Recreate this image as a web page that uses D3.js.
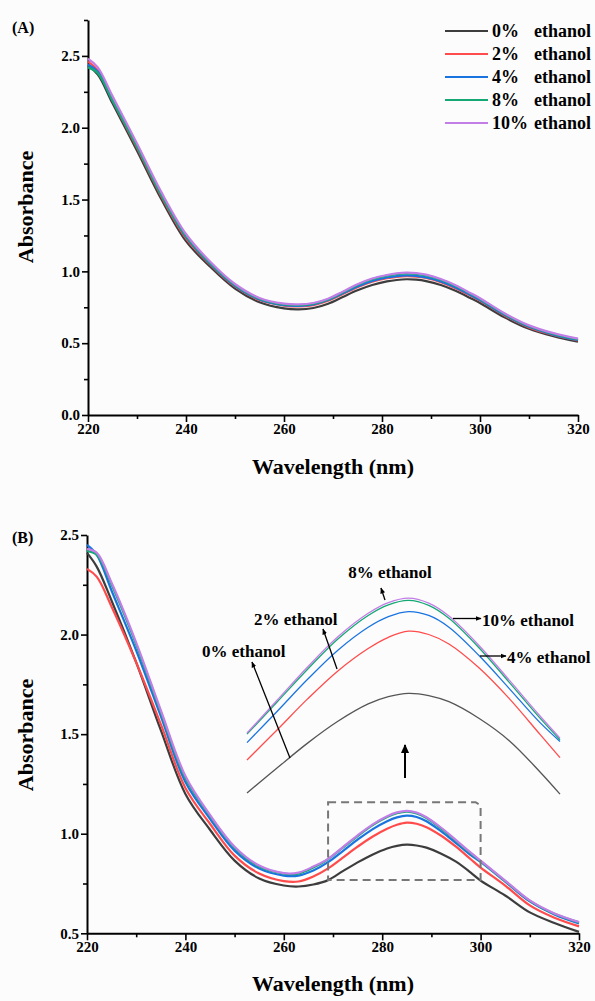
<!DOCTYPE html>
<html><head><meta charset="utf-8">
<script src="https://cdn.jsdelivr.net/npm/d3@7"></script>
<style>
html,body{margin:0;padding:0;background:#fcfcfc;}
svg{display:block;font-family:"Liberation Serif","Times New Roman",serif;font-weight:bold;}
</style></head>
<body>
<svg id="c" width="595" height="1001"></svg>
<script>
// ---------- data ----------
const wavelengths = [220,222,225,230,235,240,245,250,255,260,263,266,269,272,275,278,281,283,285,287,289,292,295,298,300,305,310,315,320];
const seriesLabels = ["0%","2%","4%","8%","10%"];
const seriesColors = ["#3d3d3d","#ff4b4b","#1a74e0","#14a874","#c27ee6"];

// Panel A absorbance
const absA_0  = [2.43,2.37,2.17,1.84,1.50,1.21,1.03,0.88,0.785,0.742,0.735,0.745,0.775,0.822,0.868,0.905,0.93,0.94,0.945,0.942,0.932,0.905,0.865,0.815,0.78,0.68,0.60,0.548,0.51];
const absA_2  = [2.46,2.40,2.19,1.86,1.52,1.23,1.045,0.895,0.80,0.762,0.756,0.765,0.795,0.842,0.89,0.928,0.952,0.962,0.967,0.964,0.954,0.925,0.883,0.832,0.796,0.693,0.61,0.557,0.52];
const absA_4  = [2.44,2.39,2.19,1.87,1.53,1.24,1.05,0.90,0.805,0.765,0.76,0.77,0.80,0.847,0.895,0.933,0.957,0.967,0.972,0.969,0.958,0.93,0.888,0.836,0.80,0.697,0.614,0.56,0.522];
const absA_8  = [2.42,2.38,2.19,1.87,1.53,1.245,1.055,0.905,0.81,0.77,0.765,0.775,0.805,0.854,0.905,0.945,0.97,0.981,0.986,0.983,0.972,0.942,0.898,0.845,0.808,0.703,0.619,0.565,0.527];
const absA_10 = [2.48,2.42,2.22,1.89,1.55,1.26,1.065,0.912,0.815,0.775,0.77,0.78,0.81,0.859,0.91,0.95,0.975,0.986,0.991,0.988,0.977,0.947,0.903,0.85,0.813,0.708,0.624,0.57,0.532];

// Panel B absorbance
const absB_0  = [2.41,2.34,2.17,1.86,1.52,1.20,1.02,0.865,0.775,0.74,0.735,0.745,0.767,0.812,0.856,0.895,0.926,0.939,0.945,0.941,0.93,0.90,0.86,0.805,0.765,0.69,0.605,0.552,0.507];
const absB_2  = [2.33,2.29,2.14,1.86,1.55,1.23,1.05,0.89,0.80,0.762,0.76,0.785,0.826,0.88,0.935,0.985,1.025,1.045,1.056,1.05,1.033,0.99,0.935,0.872,0.83,0.74,0.64,0.578,0.535];
const absB_4  = [2.45,2.40,2.22,1.92,1.59,1.26,1.075,0.915,0.825,0.79,0.79,0.815,0.857,0.913,0.97,1.022,1.063,1.082,1.091,1.084,1.063,1.012,0.953,0.893,0.859,0.76,0.66,0.595,0.55];
const absB_8  = [2.42,2.40,2.25,1.95,1.61,1.28,1.09,0.93,0.835,0.80,0.80,0.83,0.872,0.93,0.988,1.042,1.084,1.103,1.111,1.102,1.079,1.026,0.964,0.901,0.862,0.762,0.663,0.598,0.555];
const absB_10 = [2.43,2.41,2.26,1.96,1.62,1.29,1.095,0.935,0.84,0.802,0.805,0.835,0.874,0.933,0.992,1.046,1.088,1.107,1.115,1.106,1.083,1.03,0.968,0.905,0.865,0.765,0.665,0.60,0.557];

const xTicks = [220,240,260,280,300,320];
const yTicksA = [0.0,0.5,1.0,1.5,2.0,2.5];
const yTicksB = [0.5,1.0,1.5,2.0,2.5];
const zoomWl = [269,300];        // zoomed wavelength window
const zoomAbs = [0.768,1.158];   // zoomed absorbance window (dashed box)

// ---------- drawing ----------
const svg = d3.select("#c");
svg.append("rect").attr("width",595).attr("height",1001).attr("fill","#fcfcfc");
const defs = svg.append("defs");
defs.append("marker").attr("id","ah").attr("viewBox","0 0 10 10").attr("refX",9).attr("refY",5)
  .attr("markerWidth",6).attr("markerHeight",6).attr("markerUnits","userSpaceOnUse").attr("orient","auto")
  .append("path").attr("d","M0,1 L10,5 L0,9 Z").attr("fill","#000");
defs.append("marker").attr("id","ahBig").attr("viewBox","0 0 10 10").attr("refX",9).attr("refY",5)
  .attr("markerWidth",10).attr("markerHeight",9).attr("markerUnits","userSpaceOnUse").attr("orient","auto")
  .append("path").attr("d","M0,0.5 L10,5 L0,9.5 Z").attr("fill","#000");

function mkSeries(arrs){
  return arrs.map((vals,i)=>({label:seriesLabels[i],color:seriesColors[i],
    pts:wavelengths.map((w,j)=>({w:w,v:vals[j]}))}));
}
const seriesA = mkSeries([absA_0,absA_2,absA_4,absA_8,absA_10]);
const seriesB = mkSeries([absB_0,absB_2,absB_4,absB_8,absB_10]);

function drawAxes(g, x, y, yTicks, yMinor, xMinor){
  const xa = g.append("g").attr("transform",`translate(0,${y.range()[0]})`)
    .call(d3.axisBottom(x).tickValues(xTicks).tickSize(7).tickSizeOuter(0).tickPadding(1).tickFormat(d3.format("d")));
  const xm = g.append("g").attr("transform",`translate(0,${y.range()[0]})`)
    .call(d3.axisBottom(x).tickValues(xMinor).tickSize(4).tickSizeOuter(0).tickFormat(""));
  const ya = g.append("g").attr("transform",`translate(${x.range()[0]},0)`)
    .call(d3.axisLeft(y).tickValues(yTicks).tickSize(6).tickSizeOuter(0).tickPadding(2).tickFormat(d3.format(".1f")));
  const ym = g.append("g").attr("transform",`translate(${x.range()[0]},0)`)
    .call(d3.axisLeft(y).tickValues(yMinor).tickSize(4).tickSizeOuter(0).tickFormat(""));
  [xa,xm,ya,ym].forEach(a=>{
    a.attr("font-family","Liberation Serif");
    a.selectAll("path.domain").attr("stroke","#000").attr("stroke-width",2);
    a.selectAll(".tick line").attr("stroke","#000").attr("stroke-width",1.6);
    a.selectAll("text").attr("font-family","Liberation Serif").attr("font-weight","bold")
      .attr("font-size",15).attr("fill","#000");
  });
  xm.select("path.domain").remove(); ym.select("path.domain").remove();
}

function drawTitles(cx, yBase, cyAbs){
  svg.append("text").attr("x",cx).attr("y",yBase).attr("text-anchor","middle")
    .attr("font-size",22).text("Wavelength (nm)");
  svg.append("text").attr("transform",`translate(33,${cyAbs}) rotate(-90)`).attr("text-anchor","middle")
    .attr("font-size",22).text("Absorbance");
}

// ----- Panel A -----
const xA = d3.scaleLinear().domain([220,320]).range([88,578]);
const yA = d3.scaleLinear().domain([0,2.75]).range([415,20]);
const gA = svg.append("g");
drawAxes(gA, xA, yA, yTicksA, [0.25,0.75,1.25,1.75,2.25,2.75], [230,250,270,290,310]);
const lineA = d3.line().x(d=>xA(d.w)).y(d=>yA(d.v)).curve(d3.curveCatmullRom.alpha(0.5));
gA.selectAll("path.s").data(seriesA).join("path").attr("class","s")
  .attr("d",d=>lineA(d.pts)).attr("fill","none").attr("stroke",d=>d.color).attr("stroke-width",2.2);
drawTitles(333, 474, 207);
svg.append("text").attr("x",12).attr("y",33).attr("font-size",16).text("(A)");
// legend
const leg = svg.append("g");
seriesA.forEach((s,i)=>{
  const yy = 31 + i*23;
  leg.append("line").attr("x1",445).attr("x2",488).attr("y1",yy).attr("y2",yy)
    .attr("stroke",s.color).attr("stroke-width",2);
  const t = leg.append("text").attr("y",yy+6).attr("font-size",18);
  t.append("tspan").attr("x",492).text(s.label);
  t.append("tspan").attr("x",534).text("ethanol");
});

// ----- Panel B -----
const xB = d3.scaleLinear().domain([220,320]).range([87,579]);
const yB = d3.scaleLinear().domain([0.5,2.5]).range([933.3,535]);
const gB = svg.append("g");
drawAxes(gB, xB, yB, yTicksB, [0.75,1.25,1.75,2.25], [230,250,270,290,310]);
const lineB = d3.line().x(d=>xB(d.w)).y(d=>yB(d.v)).curve(d3.curveCatmullRom.alpha(0.5));
gB.selectAll("path.s").data(seriesB).join("path").attr("class","s")
  .attr("d",d=>lineB(d.pts)).attr("fill","none").attr("stroke",d=>d.color).attr("stroke-width",2.2);
drawTitles(333, 991, 735);
svg.append("text").attr("x",12).attr("y",543).attr("font-size",16).text("(B)");

// dashed box (zoom window)
const bx0 = xB(zoomWl[0]), bx1 = xB(zoomWl[1]), by0 = yB(zoomAbs[1]), by1 = yB(zoomAbs[0]);
gB.append("path")
  .attr("d",`M${bx0},${by0} L${bx1-5},${by0} L${bx1},${by0+3} L${bx1},${by1} L${bx0},${by1} Z`)
  .attr("fill","none").attr("stroke","#777").attr("stroke-width",2).attr("stroke-dasharray","8,5");

// inset (magnified)
const xI = d3.scaleLinear().domain(zoomWl).range([247,560]);
const yI = d3.scaleLinear().domain([0.75,1.15]).range([802.5,578.5]);
const lineI = d3.line().x(d=>xI(d.w)).y(d=>yI(d.v)).curve(d3.curveCatmullRom.alpha(0.5));
const inset = svg.append("g");
inset.selectAll("path").data(seriesB).join("path")
  .attr("d",d=>lineI(d.pts.filter(p=>p.w>=zoomWl[0]&&p.w<=zoomWl[1])))
  .attr("fill","none").attr("stroke",(d,i)=>i===0?"#555":d.color).attr("stroke-width",1.3);

// big up arrow
svg.append("line").attr("x1",405).attr("x2",405).attr("y1",778).attr("y2",745)
  .attr("stroke","#000").attr("stroke-width",2).attr("marker-end","url(#ahBig)");

// annotations
const ann = svg.append("g").attr("font-size",17);
function arrow(x1,y1,x2,y2){
  ann.append("line").attr("x1",x1).attr("y1",y1).attr("x2",x2).attr("y2",y2)
    .attr("stroke","#000").attr("stroke-width",1.3).attr("marker-end","url(#ah)");
}
ann.append("text").attr("x",390).attr("y",578).attr("text-anchor","middle").text("8% ethanol");
arrow(385,600,381,588);
ann.append("text").attr("x",482).attr("y",626).text("10% ethanol");
arrow(453,618.5,481,618.5);
ann.append("text").attr("x",507).attr("y",663).text("4% ethanol");
arrow(480,656,506,656);
ann.append("text").attr("x",254).attr("y",625).text("2% ethanol");
arrow(337,669,323,629);
ann.append("text").attr("x",202).attr("y",657).text("0% ethanol");
arrow(290,758,252,662);
</script>
</body></html>
